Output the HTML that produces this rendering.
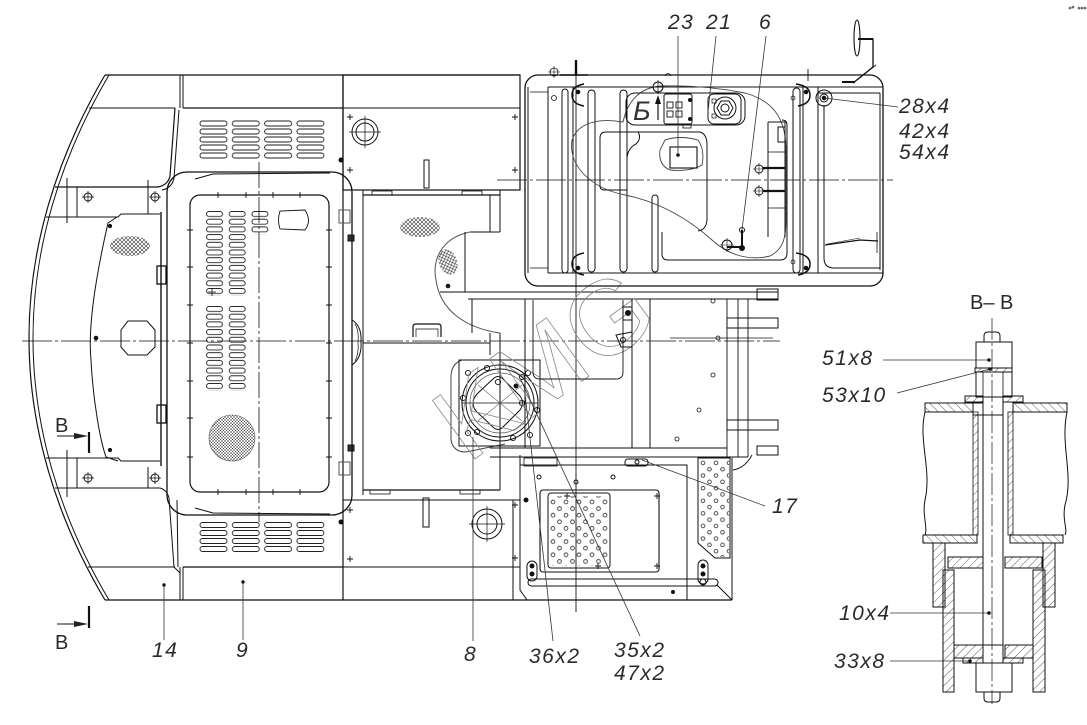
<!DOCTYPE html>
<html><head><meta charset="utf-8">
<style>
html,body{margin:0;padding:0;background:#fff;width:1087px;height:725px;overflow:hidden}
svg{display:block}
.t{font-family:"Liberation Sans",sans-serif;font-style:italic;font-size:21px;letter-spacing:1.5px;fill:#2a2a2a;stroke:none}
.u{font-family:"Liberation Sans",sans-serif;font-size:20px;fill:#2a2a2a;stroke:none}
</style></head><body>
<svg width="1087" height="725" viewBox="0 0 1087 725" xmlns="http://www.w3.org/2000/svg">
<defs>
 <pattern id="vH" patternUnits="userSpaceOnUse" x="199.5" y="120.5" width="32.3" height="8">
  <rect x="0.5" y="0.5" width="27" height="5" rx="2.5" fill="none" stroke="#222" stroke-width="0.9"/>
 </pattern>
 <pattern id="vB" patternUnits="userSpaceOnUse" x="199.5" y="522" width="32.3" height="8">
  <rect x="0.5" y="0.5" width="27" height="5" rx="2.5" fill="none" stroke="#222" stroke-width="0.9"/>
 </pattern>
 <pattern id="vD" patternUnits="userSpaceOnUse" x="206" y="211" width="22.7" height="7.7">
  <rect x="0.5" y="0.5" width="16" height="5" rx="2.5" fill="none" stroke="#222" stroke-width="0.9"/>
 </pattern>
 <pattern id="vD2" patternUnits="userSpaceOnUse" x="206" y="306" width="22.7" height="7.7">
  <rect x="0.5" y="0.5" width="16" height="5" rx="2.5" fill="none" stroke="#222" stroke-width="0.9"/>
 </pattern>
 <pattern id="pf" patternUnits="userSpaceOnUse" x="549.75" y="498.7" width="13" height="13.2">
  <circle cx="3.25" cy="3.3" r="1.9" fill="none" stroke="#222" stroke-width="0.8"/>
  <circle cx="9.75" cy="9.9" r="1.9" fill="none" stroke="#222" stroke-width="0.8"/>
 </pattern>
 <pattern id="ps" patternUnits="userSpaceOnUse" x="699.75" y="459.8" width="13" height="12.6">
  <circle cx="3.25" cy="3.15" r="1.8" fill="none" stroke="#222" stroke-width="0.8"/>
  <circle cx="9.75" cy="9.45" r="1.8" fill="none" stroke="#222" stroke-width="0.8"/>
 </pattern>
 <pattern id="ch" patternUnits="userSpaceOnUse" width="4" height="4">
  <path d="M0,0L4,4M4,0L0,4" stroke="#333" stroke-width="0.6" fill="none"/>
 </pattern>
 <pattern id="ch3" patternUnits="userSpaceOnUse" width="3" height="3">
  <path d="M0,0L3,3M3,0L0,3" stroke="#444" stroke-width="0.5" fill="none"/>
 </pattern>
 <pattern id="hA" patternUnits="userSpaceOnUse" width="6" height="6" patternTransform="rotate(45)">
  <line x1="0" y1="0" x2="0" y2="6" stroke="#333" stroke-width="0.8"/>
 </pattern>
 <pattern id="hB" patternUnits="userSpaceOnUse" width="6" height="6" patternTransform="rotate(-45)">
  <line x1="0" y1="0" x2="0" y2="6" stroke="#333" stroke-width="0.8"/>
 </pattern>
</defs>

<g fill="none" stroke="#111" stroke-width="1">

<!-- ============ LEFT COUNTERWEIGHT ============ -->
<path d="M105,75 C55,160 29,250 29,338 C29,426 55,516 105,600" stroke-width="1.2"/>
<path d="M109,75 C59,160 33,250 33,338 C33,426 59,516 109,600"/>
<line x1="105" y1="75" x2="520" y2="75" stroke-width="1.2"/>
<line x1="105" y1="600" x2="732" y2="600" stroke-width="1.2"/>
<path d="M89,108 H175"/>
<path d="M180,75 V108 M183,75 V108"/>
<path d="M183,108 H343" stroke-width="1.2"/>
<path d="M175,108 L170,176 Q168,185 158,187 H55" stroke-width="1.2"/>
<path d="M179,110 L174,178 Q172,188 162,190"/>
<path d="M46,217 H118 L121,214 H160"/>
<path d="M67,178 V223 M77,187 V217 M148,180 V214"/>
<circle cx="88" cy="197" r="4"/><path d="M82,197 H94 M88,191 V203" stroke-width="0.7"/>
<circle cx="155" cy="197" r="4"/><path d="M149,197 H161 M155,191 V203" stroke-width="0.7"/>
<!-- rear plate -->
<path d="M117,217 L108,223 C95,280 88,330 91,360 C93,400 100,440 106,457 L118,461"/>
<line x1="161" y1="212" x2="161" y2="466" stroke-width="1.4"/>
<circle cx="110" cy="226" r="1.6" fill="#111"/>
<circle cx="110" cy="450" r="1.6" fill="#111"/>
<ellipse cx="130" cy="246" rx="20" ry="10" fill="url(#ch)" stroke="none"/>
<path d="M128,321 L147,321 L155,330 L155,347 L147,355 L128,355 L121,347 L121,330 Z"/>
<circle cx="96" cy="338" r="1.8" fill="#111"/>
<rect x="157" y="266" width="9" height="18" stroke-width="1.3"/>
<rect x="157" y="405" width="9" height="18" stroke-width="1.3"/>
<path d="M46,458 H118 L121,461 H160"/>
<path d="M55,488 H160 Q167,490 169,498 L174,567 L180,573"/>
<path d="M177,500 L178,567"/>
<path d="M67,450 V497 M77,458 V488 M148,467 V488"/>
<circle cx="88" cy="478" r="4"/><path d="M82,478 H94 M88,472 V484" stroke-width="0.7"/>
<circle cx="155" cy="478" r="4"/><path d="M149,478 H161 M155,472 V484" stroke-width="0.7"/>
<path d="M88,567 H175"/>
<path d="M180,567 V600 M183,567 V600"/>
<path d="M183,567 H343" stroke-width="1.2"/>
<line x1="343" y1="75" x2="343" y2="600" stroke-width="1.2"/>
<circle cx="164" cy="585" r="1.2" fill="#111"/>
<circle cx="243" cy="582" r="1.2" fill="#111"/>

<!-- vents -->
<rect x="199.5" y="120.5" width="126" height="40" fill="url(#vH)" stroke="none"/>
<rect x="199.5" y="522" width="126" height="32" fill="url(#vB)" stroke="none"/>

<!-- ============ HOOD ============ -->
<rect x="167" y="172" width="185" height="343" rx="20" stroke-width="1.3"/>
<path d="M195,179 L213,174 L330,173"/>
<path d="M195,508 L213,513 L330,514"/>
<rect x="190" y="195" width="139" height="297" rx="10" stroke-width="1.2"/>
<path stroke-width="0.9" d="M215,195h6M218,192v6 M243,195h6M246,192v6 M270,195h6M273,192v6 M297,195h6M300,192v6
M215,492h6M218,489v6 M243,492h6M246,489v6 M270,492h6M273,489v6 M297,492h6M300,489v6
M187,230h6M190,227v6 M187,267h6M190,264v6 M187,305h6M190,302v6 M187,343h6M190,340v6 M187,381h6M190,378v6 M187,418h6M190,415v6 M187,457h6M190,454v6
M326,230h6M329,227v6 M326,267h6M329,264v6 M326,305h6M329,302v6 M326,343h6M329,340v6 M326,381h6M329,378v6 M326,418h6M329,415v6 M326,457h6M329,454v6"/>
<rect x="206" y="211" width="45.4" height="84.7" fill="url(#vD)" stroke="none"/>
<rect x="206" y="306" width="45.4" height="84.7" fill="url(#vD2)" stroke="none"/>
<rect x="251.4" y="211" width="22.7" height="23.1" fill="url(#vD)" stroke="none"/>
<path d="M280,211 Q277,220 280,229 L305,230 Q312,221 305,210 Z" stroke-width="0.9"/>
<circle cx="232" cy="438" r="23" fill="url(#ch3)" stroke="#555" stroke-width="0.6"/>
<path d="M208,292 h8 M212,288 v8" stroke-width="0.8"/>
<!-- hood right side -->
<path d="M352,320 Q362,326 361,342 Q362,358 352,365"/>
<path d="M355,324 Q359,330 358,342 Q359,354 355,361" stroke-width="0.7"/>
<rect x="339" y="210" width="11" height="13" stroke="#555"/>
<rect x="339" y="462" width="11" height="13" stroke="#555"/>
<rect x="348" y="235" width="6" height="6" fill="#333"/>
<rect x="348" y="445" width="6" height="6" fill="#333"/>
<circle cx="341" cy="160" r="2" fill="#111"/>
<circle cx="341" cy="522" r="2" fill="#111"/>

<!-- centerlines -->
<line x1="259" y1="162" x2="259" y2="522" stroke-width="0.8" stroke-dasharray="26,3,3,3"/>
<line x1="22" y1="341" x2="780" y2="341" stroke-width="0.8" stroke-dasharray="30,3,3,3"/>
<line x1="497" y1="180" x2="893" y2="180" stroke-width="0.8" stroke-dasharray="30,3,3,3"/>
<line x1="576" y1="60" x2="576" y2="612" stroke-width="0.9"/>

<!-- ============ MIDDLE (343-520) ============ -->
<rect x="343" y="75" width="177" height="115" stroke-width="1.2"/>
<line x1="343" y1="108" x2="520" y2="108"/>
<circle cx="365" cy="132" r="13"/><circle cx="365" cy="132" r="9"/>
<path d="M349,132 H381 M365,116 V148" stroke-width="0.7"/>
<rect x="424" y="160" width="5" height="28"/>
<path stroke-width="0.9" d="M347,117h6M350,114v6 M512,117h6M515,114v6 M347,170h6M350,167v6 M512,170h6M515,167v6"/>
<line x1="352" y1="190" x2="352" y2="495"/>
<line x1="363" y1="190" x2="363" y2="495"/>
<line x1="363" y1="195" x2="500" y2="195" stroke-width="1.2"/>
<rect x="372" y="191" width="20" height="4" stroke-width="0.8"/>
<rect x="462" y="191" width="20" height="4" stroke-width="0.8"/>
<path d="M490,195 V232 M500,190 V232 M470,232 H500"/>
<path d="M470,232 C440,238 432,262 436,280 C440,310 465,328 500,333" stroke="#555"/>
<line x1="465" y1="232" x2="465" y2="292"/>
<path d="M440,292 H778 M468,299 H778"/>
<line x1="472" y1="299" x2="472" y2="333"/>
<ellipse cx="420" cy="227" rx="20" ry="10" fill="url(#ch)" stroke="none"/>
<ellipse cx="448" cy="262" rx="9" ry="13" fill="url(#ch)" stroke="none" transform="rotate(-20 448 262)"/>
<circle cx="448" cy="286" r="1.8" fill="#111"/>
<path d="M363,343 H490"/>
<path d="M490,333 V355 M500,333 V490"/>
<path d="M413,337 V327 Q413,324 416,324 H438 Q441,324 441,327 V337" stroke-width="1.2"/>
<path d="M416,337 V329 H438 V337" stroke-width="0.7"/>
<line x1="363" y1="490" x2="500" y2="490" stroke-width="1.2"/>
<rect x="370" y="490" width="20" height="4" stroke-width="0.8"/>
<rect x="460" y="490" width="20" height="4" stroke-width="0.8"/>
<path d="M343,500 H520"/>
<path d="M343,567 H520"/>
<path d="M513,500 V600 M520,455 V590"/>
<rect x="423" y="498" width="6" height="29"/>
<circle cx="487" cy="524" r="15"/><circle cx="487" cy="524" r="10"/>
<path d="M469,524 H505 M487,506 V542" stroke-width="0.7"/>
<path stroke-width="0.9" d="M347,510h6M350,507v6 M512,505h6M515,502v6 M347,559h6M350,556v6 M512,558h6M515,555v6"/>

<!-- ============ FAN MODULE ============ -->
<path d="M462,360 Q450,364 451,380 L451,440 Q453,452 466,452 L505,444" stroke="#444"/>
<rect x="459" y="360" width="81" height="86" stroke-width="1"/>
<circle cx="500" cy="403" r="38" stroke-width="1.1"/>
<circle cx="500" cy="403" r="34"/>
<circle cx="500" cy="403" r="30" stroke="#555" stroke-width="0.7"/>
<path d="M473,403 Q473,398 478,393 L494,378 Q498,375 502,378 L520,396 Q525,403 520,410 L502,428 Q498,431 494,428 L477,412 Q473,408 473,403 Z"/>
<path d="M462,403 H538 M500,365 V441" stroke-width="0.7"/>
<path d="M478,385 L522,421 M478,421 L522,385" stroke="#666" stroke-width="0.6"/>
<g stroke-width="0.9">
<circle cx="468" cy="373" r="2.6"/><circle cx="528" cy="373" r="2.6"/><circle cx="463" cy="398" r="2.6"/>
<circle cx="537" cy="410" r="2.6"/><circle cx="468" cy="433" r="2.6"/><circle cx="530" cy="435" r="2.6"/>
<circle cx="487" cy="368" r="2.6"/><circle cx="513" cy="438" r="2.6"/><circle cx="498" cy="382" r="2.6"/>
<circle cx="522" cy="377" r="2.6"/><circle cx="522" cy="403" r="2.6"/><circle cx="477" cy="432" r="2.6"/>
</g>
<circle cx="516" cy="386" r="2" fill="#111"/>
<text x="0" y="0" font-family="Liberation Sans, sans-serif" font-size="105" textLength="240" lengthAdjust="spacingAndGlyphs" transform="translate(468,464) rotate(-36)" fill="none" stroke="#888" stroke-width="0.8">KMG</text>

<!-- ============ FRAME BELOW CAB ============ -->
<path d="M525,299 V448 M632,299 V448 M650,299 V448"/>
<path d="M727,299 V457 M748,299 V457 M738,299 V457" stroke-width="0.9"/>
<rect x="757" y="289" width="21" height="11"/>
<rect x="727" y="318" width="51" height="10"/>
<rect x="727" y="420" width="51" height="10"/>
<rect x="757" y="446" width="21" height="9"/>
<path d="M533,300 V372 Q533,379 540,379 H616 Q623,379 623,372 V300" stroke-width="0.9"/>
<path d="M490,448 H727 M490,457 H748"/>
<path d="M670,338 H773" stroke-width="0.8"/>
<rect x="623" y="307" width="9" height="13"/>
<circle cx="628" cy="313" r="2.5" fill="#111"/>
<path d="M616,335 L632,332 L632,347 L621,347 Z"/>
<circle cx="623" cy="340" r="2.5"/>
<g stroke-width="0.8"><circle cx="713" cy="301" r="2"/><circle cx="718" cy="338" r="2"/><circle cx="713" cy="375" r="2"/><circle cx="699" cy="410" r="2"/><circle cx="677" cy="439" r="2"/></g>
<path d="M733,470 Q745,468 752,455" stroke-width="0.9"/>

<!-- ============ LOWER RIGHT BOX ============ -->
<path d="M520,465 H687 V600"/>
<path d="M520,457 V590 L527,600"/>
<rect x="540" y="490" width="119" height="82" rx="3" stroke-width="1.1"/>
<rect x="548" y="493" width="62" height="75" rx="3"/>
<rect x="549" y="496" width="60" height="70" fill="url(#pf)" stroke="none"/>
<path stroke-width="0.9" d="M564,496h6M567,493v6 M654,496h6M657,493v6 M595,566h6M598,563v6 M654,566h6M657,563v6"/>
<circle cx="539" cy="477" r="2"/><circle cx="576" cy="482" r="2"/><circle cx="613" cy="477" r="2"/>
<circle cx="526" cy="500" r="2" fill="#111"/>
<rect x="524" y="458" width="33" height="8" stroke-width="0.8"/>
<rect x="625" y="459" width="23" height="7" rx="3" stroke-width="1"/>
<circle cx="637" cy="462" r="2"/>
<rect x="528" y="579" width="190" height="7" rx="3.5"/>
<rect x="527" y="561" width="10" height="20" rx="5"/>
<circle cx="532" cy="566" r="2" fill="#111"/><circle cx="532" cy="574" r="2" fill="#111"/>
<rect x="698" y="560" width="10" height="24" rx="5"/>
<circle cx="703" cy="566" r="2" fill="#111"/><circle cx="703" cy="574" r="2" fill="#111"/>
<circle cx="703" cy="582" r="3"/>
<circle cx="673" cy="592" r="1.5" fill="#111"/>
<path d="M698,458 H730 V558 H715 L698,543 Z" stroke-width="1"/>
<path d="M699,459 H729 V557 H716 L699,542 Z" fill="url(#ps)" stroke="none"/>
<path d="M717,585 L732,600 M732,458 V600"/>

<!-- ============ CAB ============ -->
<rect x="525" y="75" width="358" height="211" rx="13" stroke-width="1.3"/>
<path d="M548,87 H883 M548,273 H883" stroke-width="1.1"/>
<path d="M528,87 V273 M548,87 V273" stroke-width="1"/>
<path d="M530,92 H548 M530,268 H548" stroke-width="0.8"/>
<circle cx="554" cy="98" r="2.5" stroke-width="0.8"/>
<circle cx="554" cy="72" r="4" stroke-width="0.8"/><path d="M548,72 H560 M554,66 V78" stroke-width="0.6"/>
<line x1="576" y1="60" x2="576" y2="76" stroke-width="2.4"/>
<path d="M560,75 H588" stroke-width="1.6"/>
<rect x="562" y="89" width="6" height="184" rx="3"/>
<line x1="573" y1="87" x2="573" y2="273"/>
<path d="M584,84 Q572,86 572,95 Q572,104 584,106" stroke-width="1.5"/>
<path d="M584,253 Q572,255 572,264 Q572,273 584,275" stroke-width="1.5"/>
<circle cx="578" cy="92" r="1.8" fill="#111"/><circle cx="578" cy="268" r="1.8" fill="#111"/>
<rect x="588" y="90" width="7" height="182" rx="3.5"/>
<rect x="620" y="90" width="7" height="182" rx="3.5"/>
<rect x="652" y="195" width="6" height="77" rx="3"/>
<!-- seat outline -->
<path d="M623,122 C600,118 578,122 572,140 C568,165 590,188 625,195 C660,202 690,220 712,240 C725,252 745,262 770,256 C782,250 786,240 786,220 L786,150 C786,115 770,100 745,93 C720,88 690,85 660,86 C640,88 628,100 623,122 Z" stroke="#444" stroke-width="0.9"/>
<path d="M606,132 H700 Q707,134 707,145 V220 Q706,230 698,231" stroke-width="1"/>
<path d="M606,132 Q600,132 600,138 V186 Q600,190 605,190 H627 V158 Q628,148 636,144 Q642,138 638,132" stroke-width="1"/>
<path d="M662,232 V254 Q662,260 668,260 H780 Q787,260 787,253 V125 Q787,120 782,120" stroke-width="1"/>
<!-- console -->
<rect x="626" y="93" width="119" height="32" rx="9" stroke-width="1"/>
<rect x="664" y="94" width="28" height="30" rx="2" stroke-width="1"/>
<rect x="667" y="102" width="6" height="6" stroke-width="0.9"/><rect x="676" y="102" width="6" height="6" stroke-width="0.9"/>
<rect x="667" y="111" width="6" height="6" stroke-width="0.9"/><rect x="676" y="111" width="6" height="6" stroke-width="0.9"/>
<circle cx="690" cy="100" r="1.5" fill="#111"/><circle cx="690" cy="119" r="1.5" fill="#111"/>
<rect x="683" y="124" width="8" height="4" stroke-width="0.8"/>
<text x="633" y="120" font-family="Liberation Sans, sans-serif" font-style="italic" font-size="27" fill="#333" stroke="none">Б</text>
<line x1="658" y1="120" x2="658" y2="100" stroke-width="1.2"/>
<path d="M655,104 L658,95 L661,104 Z" fill="#111" stroke="none"/>
<circle cx="658" cy="87" r="5"/><path d="M651,87 H665 M658,80 V94" stroke-width="0.7"/>
<rect x="708" y="94" width="33" height="30" rx="6" stroke-width="1"/>
<circle cx="725" cy="108" r="11"/>
<path d="M733,108 L729,115 L721,115 L717,108 L721,101 L729,101 Z"/>
<circle cx="725" cy="108" r="4"/>
<rect x="712" y="99" width="4" height="4" stroke-width="0.7"/><rect x="712" y="114" width="4" height="4" stroke-width="0.7"/>
<!-- seat cushion -->
<path d="M665,140 Q680,135 698,140 Q705,150 702,165 Q690,172 670,170 Q658,165 660,150 Z" stroke="#444" stroke-width="0.9"/>
<rect x="670" y="147" width="27" height="21" stroke-width="1.1"/>
<circle cx="678" cy="155" r="1.3" fill="#111"/>
<!-- right interior -->
<path d="M768,122 H785 V237 M768,122 V237"/>
<rect x="778" y="127" width="7" height="15"/>
<path d="M768,152 H785 M768,208 H785" stroke-width="0.8"/>
<circle cx="759" cy="169" r="4"/><path d="M753,169 H765 M759,163 V175" stroke-width="0.6"/>
<circle cx="759" cy="191" r="4"/><path d="M753,191 H765 M759,185 V197" stroke-width="0.6"/>
<path d="M763,168 H785 M763,191 H785" stroke-width="2.2"/>
<!-- lever -->
<line x1="742" y1="230" x2="742" y2="248" stroke-width="2"/>
<line x1="727" y1="247" x2="743" y2="247" stroke-width="2"/>
<circle cx="742" cy="230" r="2.5"/><circle cx="742" cy="248" r="2.5" fill="#111"/>
<circle cx="727" cy="245" r="5"/><path d="M720,245 H734 M727,238 V252" stroke-width="0.6"/>
<!-- right rails -->
<rect x="793" y="88" width="7" height="185" rx="3.5"/>
<line x1="803" y1="87" x2="803" y2="273"/>
<path d="M796,84 Q810,86 810,95 Q810,104 798,106" stroke-width="1.5"/>
<path d="M796,253 Q810,255 810,264 Q810,273 798,275" stroke-width="1.5"/>
<circle cx="806" cy="92" r="1.8" fill="#111"/><circle cx="806" cy="268" r="1.8" fill="#111"/>
<path d="M802,75 H814 M808,69 V81" stroke-width="0.9"/>
<circle cx="793" cy="98" r="2" stroke-width="0.7"/><circle cx="793" cy="262" r="2" stroke-width="0.7"/>
<!-- right compartment -->
<path d="M818,87 V273 M880,93 V270 M818,93 H880"/>
<path d="M824,105 V258 Q824,268 834,268 H880"/>
<circle cx="824" cy="98" r="8"/><circle cx="824" cy="98" r="4"/><circle cx="824" cy="98" r="1.8" fill="#111"/>
<path d="M825,245 L860,240 L878,241" stroke-width="1.2"/>
<path d="M827,244 L860,238" stroke-width="0.6"/>
<line x1="877" y1="232" x2="877" y2="253" stroke-width="0.8"/>
<!-- mirror -->
<path d="M853,83 L873,67 V39 H858" stroke-width="1.3"/>
<path d="M857,80 L876,65" stroke-width="0.8"/>
<line x1="842" y1="82" x2="855" y2="82" stroke-width="2"/>
<ellipse cx="857" cy="38" rx="3" ry="18" stroke-width="1.1"/>
<line x1="858" y1="39" x2="873" y2="39" stroke-width="2"/>
<path d="M665,76 Q668,71 671,76" stroke-width="0.8"/>

<!-- ============ LEADERS ============ -->
<g stroke="#333" stroke-width="0.8">
<path d="M164,585 V640"/>
<path d="M243,582 V640"/>
<path d="M473,437 V641"/>
<path d="M553,641 L524,385"/>
<path d="M640,636 L520,378"/>
<path d="M642,460 L765,506"/>
<path d="M678,36 V155"/>
<path d="M716,36 L708,112"/>
<path d="M766,36 L742,230"/>
<path d="M824,98 L898,107"/>
</g>

<!-- B arrows -->
<line x1="57" y1="436" x2="78" y2="436"/>
<path d="M74,433 L88,436 L74,439 Z" fill="#222" stroke="none"/>
<line x1="89" y1="432" x2="89" y2="453" stroke-width="2.2"/>
<line x1="57" y1="624" x2="78" y2="624"/>
<path d="M74,621 L88,624 L74,627 Z" fill="#222" stroke="none"/>
<line x1="89" y1="606" x2="89" y2="628" stroke-width="2.2"/>

<!-- ============ SECTION B-B ============ -->
<line x1="992" y1="318" x2="992" y2="704" stroke-width="0.7" stroke-dasharray="22,3,3,3"/>
<path d="M984,342 V336 Q984,332 988,332 H996 Q1000,332 1000,336 V342"/>
<rect x="976" y="342" width="36" height="26"/>
<rect x="975" y="368" width="37" height="4" fill="url(#hA)"/>
<rect x="976" y="372" width="36" height="25"/>
<path d="M983,372 V397 M1003,372 V397" stroke-width="0.8"/>
<rect x="965" y="396" width="18" height="6" fill="url(#hA)"/>
<rect x="1003" y="396" width="20" height="6" fill="url(#hA)"/>
<rect x="925" y="403" width="48" height="9" fill="url(#hB)"/>
<rect x="1013" y="403" width="54" height="9" fill="url(#hB)"/>
<rect x="973" y="403" width="10" height="12"/>
<rect x="983" y="397" width="20" height="18"/>
<path d="M983,415 V645 M1003,415 V645"/>
<rect x="973" y="412" width="5" height="123" fill="url(#hA)" stroke-width="0.8"/>
<rect x="1008" y="412" width="5" height="123" fill="url(#hA)" stroke-width="0.8"/>
<path d="M925,412 C918,440 932,470 925,500 C922,515 928,528 925,535"/>
<path d="M1067,412 C1060,445 1074,475 1065,505 C1062,520 1068,530 1065,535"/>
<rect x="923" y="535" width="54" height="8" fill="url(#hB)"/>
<rect x="1010" y="535" width="53" height="8" fill="url(#hB)"/>
<rect x="933" y="543" width="12" height="64" fill="url(#hA)"/>
<rect x="1043" y="543" width="12" height="64" fill="url(#hA)"/>
<rect x="948" y="557" width="35" height="11" fill="url(#hA)"/>
<rect x="1005" y="557" width="37" height="11" fill="url(#hA)"/>
<rect x="943" y="570" width="11" height="122" fill="url(#hA)"/>
<rect x="1033" y="570" width="12" height="122" fill="url(#hA)"/>
<rect x="954" y="645" width="29" height="13" fill="url(#hA)"/>
<rect x="1005" y="645" width="28" height="13" fill="url(#hA)"/>
<rect x="963" y="658" width="20" height="5" fill="url(#hA)"/>
<rect x="1003" y="658" width="20" height="5" fill="url(#hA)"/>
<rect x="983" y="645" width="20" height="18"/>
<rect x="976" y="663" width="36" height="29"/>
<path d="M984,692 V698 Q984,702 988,702 H996 Q1000,702 1000,698 V692"/>
<g stroke="#333" stroke-width="0.8">
<path d="M883,360 H989"/>
<path d="M897,393 L990,369"/>
<path d="M890,613 H989"/>
<path d="M890,661 H970"/>
</g>
<circle cx="989" cy="360" r="1.3" fill="#111"/>
<circle cx="990" cy="369" r="1.3" fill="#111"/>
<circle cx="989" cy="613" r="1.3" fill="#111"/>
<circle cx="970" cy="661" r="1.3" fill="#111"/>

<!-- tiny top-right mark -->
<g stroke-width="0.6"><circle cx="1070" cy="8" r="1"/><circle cx="1073" cy="7" r="1"/><circle cx="1079" cy="8" r="1"/><circle cx="1082" cy="8" r="1"/><circle cx="1085" cy="8" r="1"/></g>
</g>

<!-- ============ TEXT ============ -->
<text class="t" x="668" y="29">23</text>
<text class="t" x="706" y="29">21</text>
<text class="t" x="759" y="29">6</text>
<text class="t" x="899" y="113">28x4</text>
<text class="t" x="899" y="138">42x4</text>
<text class="t" x="899" y="159">54x4</text>
<text class="t" x="772" y="513">17</text>
<text class="t" x="152" y="657">14</text>
<text class="t" x="236" y="657">9</text>
<text class="t" x="464" y="661">8</text>
<text class="t" x="529" y="663">36x2</text>
<text class="t" x="614" y="657">35x2</text>
<text class="t" x="614" y="680">47x2</text>
<text class="u" x="55" y="432">B</text>
<text class="u" x="55" y="649">B</text>
<text class="u" x="970" y="309">B– B</text>
<text class="t" x="822" y="365">51x8</text>
<text class="t" x="822" y="402">53x10</text>
<text class="t" x="839" y="620">10x4</text>
<text class="t" x="834" y="668">33x8</text>
</svg>
</body></html>
